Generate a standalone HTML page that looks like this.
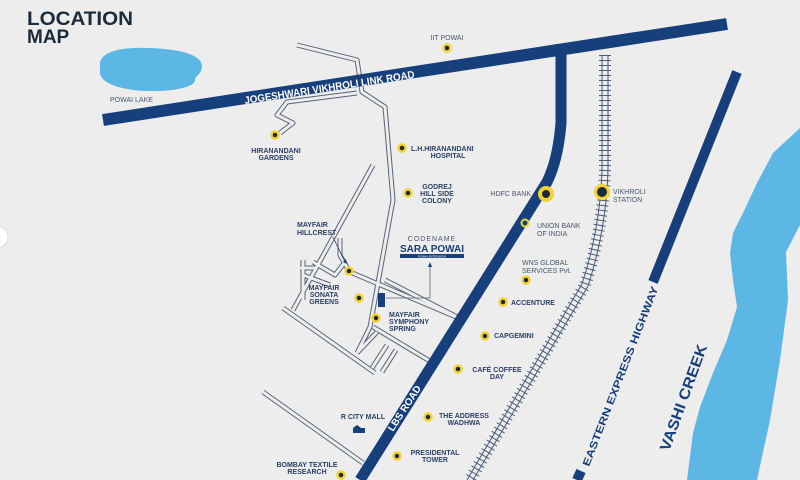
<!DOCTYPE html>
<html><head><meta charset="utf-8"><style>
html,body{margin:0;padding:0;width:800px;height:480px;overflow:hidden;background:#ecedec}
svg{display:block}
text{font-family:"Liberation Sans",sans-serif}
.l{font-size:7px;fill:#2b3f66;font-weight:bold}
.lg{font-size:7px;fill:#4a5670}
</style></head><body>
<svg width="800" height="480" viewBox="0 0 800 480" xmlns="http://www.w3.org/2000/svg">
<rect width="800" height="480" fill="#ecedec"/>
<path d="M100,62 C104,50 125,47 150,48 C180,49 202,55 202,66 C202,74 195,76 195,80 C195,86 180,90 160,91 C130,92 103,86 100,74 Z" fill="#5db7e5"/>
<path d="M800,128 L773,153 L757,183 L743,213 L733,233 L730,253 L733,280 L737,307 L727,340 L713,373 L700,407 L693,433 L687,480 L757,480 L770,420 L780,360 L788,300 L786,252 L800,225 Z" fill="#5db7e5"/>
<g fill="none" stroke-linejoin="round">
<g stroke="#5a6478" stroke-width="5">
<path d="M297,45 L357,60 L362,92 L385,107 L393,200 L370,327 L357,353"/>
<path d="M357,93 L287,102 L277,115 L293,123 L280,133"/>
<path d="M373,165 L293,310"/>
<path d="M350,272 L463,320"/>
<path d="M385,280 L463,320"/>
<path d="M283,308 L375,373"/>
<path d="M373,327 L433,363"/>
<path d="M377,332 L357,353 M387,345 L372,368 M396,350 L382,372"/>
<path d="M263,392 L363,463"/>
<path d="M303,260 L303,300 M303,275 L330,285 M313,262 L335,275 L345,262 M300,268 L315,268"/>
<path d="M340,238 L340,255 L349,271"/>
</g>
<g stroke="#ecedec" stroke-width="3">
<path d="M297,45 L357,60 L362,92 L385,107 L393,200 L370,327 L357,353"/>
<path d="M357,93 L287,102 L277,115 L293,123 L280,133"/>
<path d="M373,165 L293,310"/>
<path d="M350,272 L463,320"/>
<path d="M385,280 L463,320"/>
<path d="M283,308 L375,373"/>
<path d="M373,327 L433,363"/>
<path d="M377,332 L357,353 M387,345 L372,368 M396,350 L382,372"/>
<path d="M263,392 L363,463"/>
<path d="M303,260 L303,300 M303,275 L330,285 M313,262 L335,275 L345,262 M300,268 L315,268"/>
<path d="M340,238 L340,255 L349,271"/>
</g>
</g>
<g fill="none" stroke="#4a5a7a">
<path d="M605,55 L605,170 Q603,230 585,285 L470,480" stroke-width="12" stroke-dasharray="1 4"/>
<path d="M602,55 L602,170 Q600,229 582,284 L467,480" stroke-width="1"/>
<path d="M608,55 L608,170 Q606,231 588,286 L473,480" stroke-width="1"/>
</g>
<g fill="none" stroke="#173f7c" stroke-linecap="butt">
<path d="M103,120 L727,24" stroke-width="12"/>
<path d="M561,44 L561,123 Q558,160 547,182 L360,480" stroke-width="11"/>
<path d="M737,72 L653,282" stroke-width="10"/>
<path d="M581,471 L577,480" stroke-width="10"/>
</g>
<text transform="translate(245,104) rotate(-8.75)" font-size="10.5" font-weight="bold" fill="#fff" textLength="172" lengthAdjust="spacingAndGlyphs">JOGESHWARI VIKHROLI LINK ROAD</text>
<text transform="translate(393,432) rotate(-57)" font-size="10" font-weight="bold" fill="#fff">LBS ROAD</text>
<text transform="translate(589,467) rotate(-68.8)" font-size="10.5" font-weight="bold" fill="#173f7c" textLength="192" lengthAdjust="spacingAndGlyphs">EASTERN EXPRESS HIGHWAY</text>
<text transform="translate(669,452) rotate(-70)" font-size="15" font-weight="bold" fill="#173f7c" textLength="112" lengthAdjust="spacingAndGlyphs">VASHI CREEK</text>
<text x="27" y="25" font-size="19" font-weight="bold" fill="#1c2b3a" textLength="106" lengthAdjust="spacingAndGlyphs">LOCATION</text>
<text x="27" y="43" font-size="19" font-weight="bold" fill="#1c2b3a">MAP</text>
<text x="110" y="102" class="lg" font-size="6.5">POWAI LAKE</text>
<g fill="#1c2b3a" stroke="#f3d232" stroke-width="2.5">
<circle cx="447" cy="48" r="3.5"/><circle cx="275" cy="135" r="3.5"/>
<circle cx="402" cy="148" r="3.5"/><circle cx="408" cy="193" r="3.5"/>
<circle cx="526" cy="280" r="3.5"/><circle cx="503" cy="302" r="3.5"/>
<circle cx="485" cy="336" r="3.5"/><circle cx="458" cy="369" r="3.5"/>
<circle cx="428" cy="417" r="3.5"/><circle cx="397" cy="456" r="3.5"/>
<circle cx="341" cy="475" r="3.5"/><circle cx="349" cy="271" r="3.5"/>
<circle cx="359" cy="298" r="3.5"/><circle cx="376" cy="318" r="3.5"/>
</g>
<circle cx="546" cy="194" r="6" fill="#1c2b3a" stroke="#f3d232" stroke-width="4"/>
<circle cx="602" cy="192" r="6.5" fill="#1c2b3a" stroke="#f3d232" stroke-width="3"/>
<circle cx="525" cy="223" r="3.5" fill="none" stroke="#f3d232" stroke-width="2"/>
<text x="447" y="40" class="lg" text-anchor="middle">IIT POWAI</text>
<text x="276" y="153" class="l" text-anchor="middle">HIRANANDANI</text>
<text x="276" y="160" class="l" text-anchor="middle">GARDENS</text>
<text x="411" y="151" class="l">L.H.HIRANANDANI</text>
<text x="448" y="158" class="l" text-anchor="middle">HOSPITAL</text>
<text x="437" y="189" class="l" text-anchor="middle">GODREJ</text>
<text x="437" y="196" class="l" text-anchor="middle">HILL SIDE</text>
<text x="437" y="203" class="l" text-anchor="middle">COLONY</text>
<text x="531" y="196" class="lg" text-anchor="end">HDFC BANK</text>
<text x="613" y="194" class="lg">VIKHROLI</text>
<text x="613" y="202" class="lg">STATION</text>
<text x="537" y="228" class="lg">UNION BANK</text>
<text x="537" y="236" class="lg">OF INDIA</text>
<text x="522" y="265" class="lg">WNS GLOBAL</text>
<text x="522" y="273" class="lg">SERVICES Pvt.</text>
<text x="511" y="305" class="l">ACCENTURE</text>
<text x="494" y="338" class="l">CAPGEMINI</text>
<text x="497" y="372" class="l" text-anchor="middle">CAFÉ COFFEE</text>
<text x="497" y="379" class="l" text-anchor="middle">DAY</text>
<text x="464" y="418" class="l" text-anchor="middle">THE ADDRESS</text>
<text x="464" y="425" class="l" text-anchor="middle">WADHWA</text>
<text x="435" y="455" class="l" text-anchor="middle">PRESIDENTAL</text>
<text x="435" y="462" class="l" text-anchor="middle">TOWER</text>
<text x="307" y="467" class="l" text-anchor="middle">BOMBAY TEXTILE</text>
<text x="307" y="474" class="l" text-anchor="middle">RESEARCH</text>
<text x="363" y="419" class="l" text-anchor="middle" font-weight="normal">R CITY MALL</text>
<path d="M353,433 L353,428 L357,425 L361,428 L365,428 L365,433 Z" fill="#173f7c"/>
<text x="297" y="227" class="l">MAYFAIR</text>
<text x="297" y="235" class="l">HILLCREST</text>
<path d="M333,237 L345,262" stroke="#2b3f66" stroke-width="0.8"/>
<path d="M343,262 L347,264 L346,259 Z" fill="#173f7c"/>
<text x="324" y="290" class="l" text-anchor="middle">MAYFAIR</text>
<text x="324" y="297" class="l" text-anchor="middle">SONATA</text>
<text x="324" y="304" class="l" text-anchor="middle">GREENS</text>
<text x="389" y="317" class="l">MAYFAIR</text>
<text x="389" y="324" class="l">SYMPHONY</text>
<text x="389" y="331" class="l">SPRING</text>
<rect x="378" y="293" width="7" height="14" fill="#173f7c"/>
<path d="M386,298 L430,298 L430,266" fill="none" stroke="#5a6478" stroke-width="0.8"/>
<path d="M428,267 L432,267 L430,262 Z" fill="#173f7c"/>
<text x="432" y="241" class="lg" text-anchor="middle" font-size="6" letter-spacing="1">CODENAME</text>
<text x="432" y="252" text-anchor="middle" font-size="10" font-weight="bold" fill="#173f7c">SARA POWAI</text>
<rect x="400" y="254" width="64" height="4" fill="#173f7c"/>
<text x="432" y="257.5" text-anchor="middle" font-size="3" fill="#fff">POWAI EXTENSION</text>
<circle cx="-3" cy="237" r="11" fill="#fff" stroke="#ddd" stroke-width="1"/>
</svg>
</body></html>
